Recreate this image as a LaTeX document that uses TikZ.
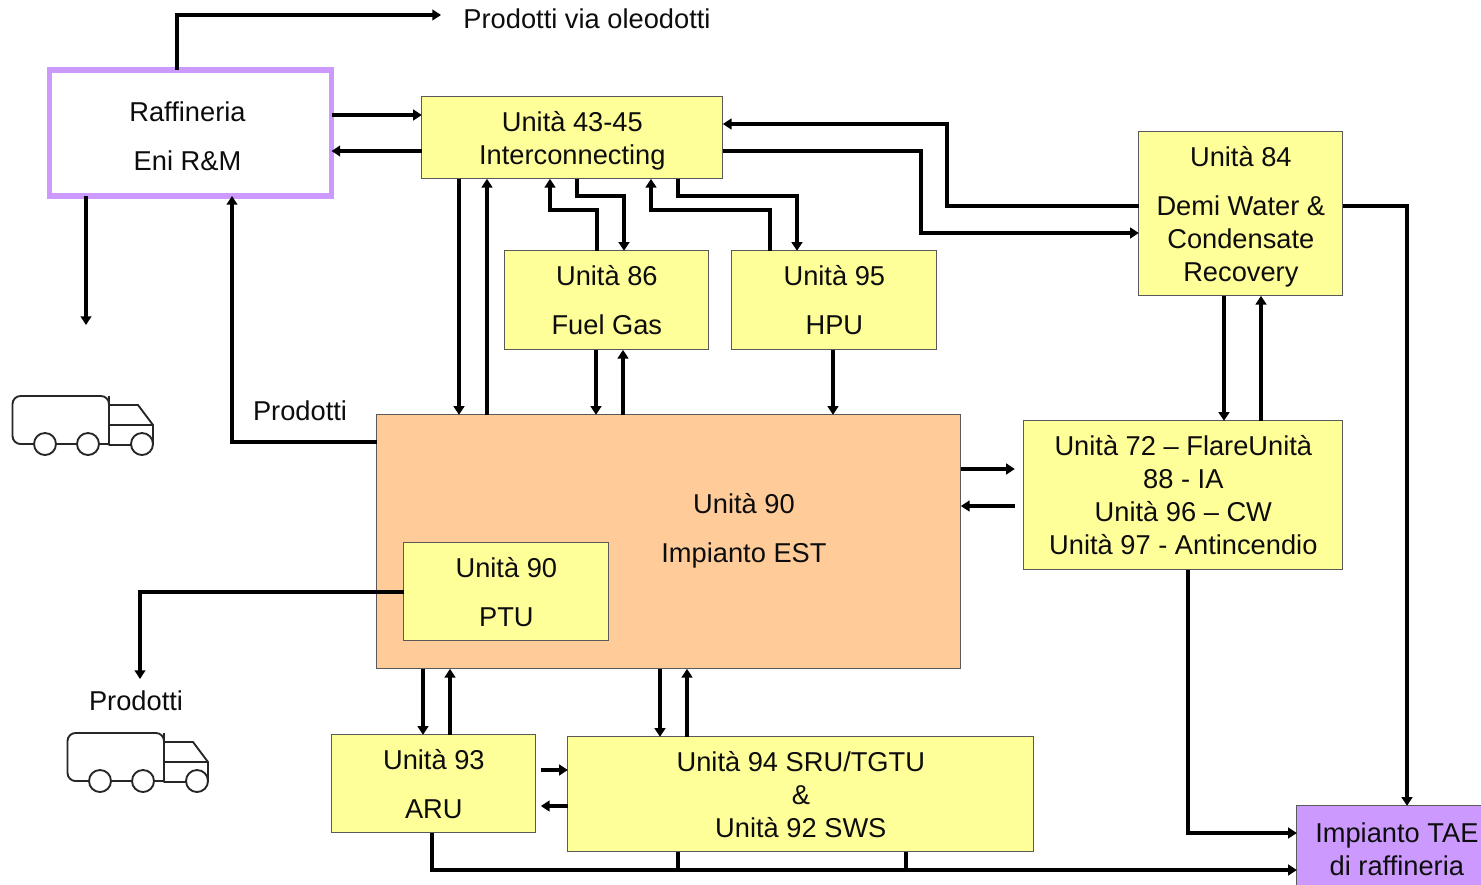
\documentclass[tikz,border=0pt]{standalone}
\usepackage{fontspec}
\setmainfont{Liberation Sans}
\usetikzlibrary{arrows.meta,calc}
\definecolor{boxyellow}{HTML}{FFFF99}
\definecolor{boxorange}{HTML}{FFCC99}
\definecolor{boxpurple}{HTML}{CC99FF}
\def\px{0.75pt}
\tikzset{
  every node/.style={font=\fontsize{20.45}{24.75}\selectfont, text=black!95, align=center, inner sep=0pt, outer sep=0pt, text depth=0pt},
  unitbox/.style={draw=black!65, line width=0.7pt, fill=boxyellow, xshift=-0.12pt, yshift=0.12pt},
  estbox/.style={unitbox, fill=boxorange},
  taebox/.style={unitbox, fill=boxpurple},
  raffbox/.style={draw=boxpurple, line width=3.9pt, fill=white},
  flow/.style={line width=2.9pt, -{Triangle[width=8pt,length=6.5pt]}},
  plainflow/.style={line width=2.9pt},
  truckline/.style={draw=black!85, line width=1.4pt, line join=round},
  truckwheel/.style={draw=black!85, line width=1.4pt, fill=white},
  pics/truck/.style={code={
    \draw[truckline, rounded corners=6pt] (109,444) -- (109,396) -- (12.5,396) -- (12.5,444) -- (109,444);
    \draw[truckline] (109,405) -- (138,405) -- (153,425) -- (153,445);
    \draw[truckline] (109,425) -- (153,425);
    \draw[truckline] (109,396) -- (109,445) -- (131,445);
    \draw[truckwheel] (45,444) circle (11*\px);
    \draw[truckwheel] (88,444) circle (11*\px);
    \draw[truckwheel] (142,444) circle (11*\px);
  }}
}
\begin{document}
\begin{tikzpicture}[x=0.75pt,y=-0.75pt]
\useasboundingbox (0,0) rectangle (1481,885);
\clip (0,0) rectangle (1481,885);

\node[raffbox, minimum width=282*\px, minimum height=126*\px] (raff) at (190.5,133) {};
\node (rafflabel) at (187.5,136.5) {Raffineria\\[12pt]Eni R\&M};
\node[unitbox, text depth=-1pt, minimum width=301*\px, minimum height=82*\px] (u43) at (572.5,138) {Unità 43-45\\Interconnecting};
\node[unitbox, minimum width=204*\px, minimum height=99*\px] (u86) at (607,300.5) {Unità 86\\[12pt]Fuel Gas};
\node[unitbox, minimum width=205*\px, minimum height=99*\px] (u95) at (834.5,300.5) {Unità 95\\[12pt]HPU};
\node[unitbox, minimum width=204*\px, minimum height=164*\px] (u84) at (1241,214) {Unità 84\\[12pt]Demi Water \&\\Condensate\\Recovery};
\node[estbox, minimum width=584*\px, minimum height=254*\px] (est) at (669,542) {};
\node (estlabel) at (744,527.5) {Unità 90\\[12pt]Impianto EST};
\node[unitbox, minimum width=205*\px, minimum height=98*\px] (ptu) at (506.5,592) {Unità 90\\[12pt]PTU};
\node[unitbox, text depth=-1pt, minimum width=319*\px, minimum height=149*\px] (u72) at (1183.5,495.5) {Unità 72 – FlareUnità\\88 - IA\\Unità 96 – CW\\Unità 97 - Antincendio};
\node[unitbox, minimum width=204*\px, minimum height=98*\px] (u93) at (434,784) {Unità 93\\[12pt]ARU};
\node[unitbox, minimum width=466*\px, minimum height=115*\px] (u94) at (801,794.5) {Unità 94 SRU/TGTU\\\&\\Unità 92 SWS};
\node[taebox, minimum width=200*\px, minimum height=86*\px] (tae) at (1397,849) {Impianto TAE\\di raffineria};

\node (oleo) at (587,19) {Prodotti via oleodotti};
\node (prod1) at (300,410.5) {Prodotti};
\node (prod2) at (136,700.5) {Prodotti};

\coordinate (oleoend) at (441,15);
\coordinate (truckend) at (86,325);
\coordinate (prodend) at (140,679);

\pic (truckone) at (0,0) {truck};
\pic (trucktwo) at (55,337) {truck};

% Raffineria
\draw[flow] (177,0 |- raff.north) |- (oleoend);
\draw[flow] (raff.east |- 0,115) -- (u43.west |- 0,115);
\draw[flow] (u43.west |- 0,151) -- (raff.east |- 0,151);
\draw[flow] (truckend |- raff.south) -- (truckend);
\draw[flow] (est.west |- 0,442) -| (232,0 |- raff.south);

% Unit 43-45 and EST
\draw[flow] (459,0 |- u43.south) -- (459,0 |- est.north);
\draw[flow] (487,0 |- est.north) -- (487,0 |- u43.south);

% Unit 43-45 with 86 and 95
\draw[flow] (597,0 |- u86.north) -- (597,210) -- (550,210) -- (550,0 |- u43.south);
\draw[flow] (577,0 |- u43.south) -- (577,196) -- (624,196) -- (624,0 |- u86.north);
\draw[flow] (770,0 |- u95.north) -- (770,210) -- (651,210) -- (651,0 |- u43.south);
\draw[flow] (678,0 |- u43.south) -- (678,196) -- (797,196) -- (797,0 |- u95.north);

% 86, 95 and EST
\draw[flow] (596,0 |- u86.south) -- (596,0 |- est.north);
\draw[flow] (623,0 |- est.north) -- (623,0 |- u86.south);
\draw[flow] (833,0 |- u95.south) -- (833,0 |- est.north);

% Unit 84
\draw[flow] (u84.west |- 0,206) -- (947,206) -- (947,124) -- (u43.east |- 0,124);
\draw[flow] (u43.east |- 0,151) -- (921,151) -- (921,233) -- (u84.west |- 0,233);
\draw[flow] (u84.east |- 0,206) -- (1407,206) -- (1407,0 |- tae.north);
\draw[flow] (1224,0 |- u84.south) -- (1224,0 |- u72.north);
\draw[flow] (1261,0 |- u72.north) -- (1261,0 |- u84.south);

% Unit 72 and EST
\draw[flow, shorten >=9*\px] (est.east |- 0,469) -- (u72.west |- 0,469);
\draw[flow, shorten <=9*\px] (u72.west |- 0,506) -- (est.east |- 0,506);
\draw[flow] (1188,0 |- u72.south) |- (tae.west |- 0,833);

% PTU
\draw[flow] (ptu.west |- 0,592) -| (prodend);

% EST with 93 and 94
\draw[flow] (423,0 |- est.south) -- (423,0 |- u93.north);
\draw[flow] (450,0 |- u93.north) -- (450,0 |- est.south);
\draw[flow] (660,0 |- est.south) -- (660,0 |- u94.north);
\draw[flow] (687,0 |- u94.north) -- (687,0 |- est.south);

% 93 and 94
\draw[flow, shorten <=5*\px] (u93.east |- 0,770) -- (u94.west |- 0,770);
\draw[flow, shorten >=5*\px] (u94.west |- 0,806) -- (u93.east |- 0,806);

% to TAE
\draw[flow] (432,0 |- u93.south) |- (tae.west |- 0,870);
\draw[plainflow] (678,0 |- u94.south) -- (678,870);
\draw[plainflow] (906,0 |- u94.south) -- (906,870);
\end{tikzpicture}
\end{document}
